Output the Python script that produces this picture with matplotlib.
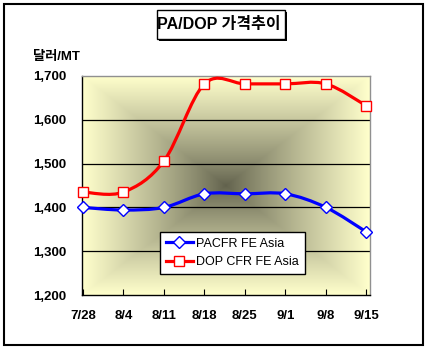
import numpy as np
import matplotlib
matplotlib.use("Agg")
import matplotlib.pyplot as plt
from matplotlib.path import Path
from matplotlib.patches import PathPatch, Rectangle

categories = ["7/28", "8/4", "8/11", "8/18", "8/25", "9/1", "9/8", "9/15"]
pa_values = [1400, 1394, 1400, 1431, 1431, 1431, 1400, 1344]
dop_values = [1435, 1435, 1506, 1682, 1682, 1682, 1682, 1632]
series_names = ["PACFR FE Asia", "DOP CFR FE Asia"]
yticks = [1200, 1300, 1400, 1500, 1600, 1700]
ytick_labels = ["1,200", "1,300", "1,400", "1,500", "1,600", "1,700"]
title = "PA/DOP 가격추이"
unit_label = "달러/MT"

FAM = ["Liberation Sans", "Noto Sans CJK KR"]
W, H = 428, 354


def fx(px):
    return px / W


def fy(py):
    return 1 - py / H


fig = plt.figure(figsize=(4.28, 3.54), dpi=100)
fig.patch.set_facecolor("white")

# outer border
fig.add_artist(Rectangle((fx(4), fy(345)), 419 / W, 341 / H,
                         transform=fig.transFigure, fill=False,
                         edgecolor="black", linewidth=1.5))

ax = fig.add_axes([fx(82), fy(295), 288 / W, 219 / H])

# gradient background
n = 300
u = np.linspace(-1, 1, n)
U, V = np.meshgrid(u, u)
t = np.maximum(np.abs(U), np.abs(V))
center = np.array([0.38, 0.38, 0.30])
edge = np.array([1.0, 1.0, 0.80])
tt = t ** 0.85
img = center[None, None, :] + (edge - center)[None, None, :] * tt[:, :, None]
ax.imshow(img, extent=[0, 1, 0, 1], transform=ax.transAxes, aspect="auto",
          zorder=0, interpolation="bilinear")

x = np.arange(len(categories))
ax.set_xlim(-0.025, 7.09)
ax.set_ylim(1200, 1700)


def smooth_path(xs, ys):
    pts = np.column_stack([xs, ys]).astype(float)
    verts = [pts[0]]
    codes = [Path.MOVETO]
    nn = len(pts)
    for i in range(nn - 1):
        p0 = pts[i - 1] if i > 0 else pts[i]
        p1 = pts[i]
        p2 = pts[i + 1]
        p3 = pts[i + 2] if i + 2 < nn else pts[i + 1]
        c1 = p1 + (p2 - p0) / 6.0
        c2 = p2 - (p3 - p1) / 6.0
        verts += [c1, c2, p2]
        codes += [Path.CURVE4] * 3
    return Path(verts, codes)


for vals, col in [(pa_values, "#0000ff"), (dop_values, "#ff0000")]:
    patch = PathPatch(smooth_path(x, vals), facecolor="none", edgecolor=col,
                      linewidth=2.3, zorder=3, capstyle="round", joinstyle="round")
    patch.set_clip_on(False)
    ax.add_patch(patch)

ax.plot(x, pa_values, linestyle="none", marker="D", markersize=6.5,
        markerfacecolor="white", markeredgecolor="#0000ff", markeredgewidth=1.0,
        zorder=4, clip_on=False)
ax.plot(x, dop_values, linestyle="none", marker="s", markersize=7.5,
        markerfacecolor="white", markeredgecolor="#ff0000", markeredgewidth=1.0,
        zorder=4, clip_on=False)

# legend handles
h1, = ax.plot([], [], color="#0000ff", linewidth=2.3, marker="D", markersize=6.5,
              markerfacecolor="white", markeredgecolor="#0000ff", markeredgewidth=1.0)
h2, = ax.plot([], [], color="#ff0000", linewidth=2.3, marker="s", markersize=7.5,
              markerfacecolor="white", markeredgecolor="#ff0000", markeredgewidth=1.0)
leg = ax.legend([h1, h2], series_names, loc="upper left",
                bbox_to_anchor=(0.271, 0.288), borderaxespad=0,
                frameon=True, fancybox=False, framealpha=1, edgecolor="black",
                handlelength=2.2, handletextpad=0.25, borderpad=0.45,
                labelspacing=0.55, prop={"family": FAM, "size": 9})
leg.get_frame().set_linewidth(1.0)
leg.set_zorder(5)

# grid lines
for yv in yticks[1:-1]:
    ax.axhline(yv, color="black", linewidth=0.9, zorder=1)

ax.set_yticks(yticks)
ax.set_yticklabels(ytick_labels)
ax.set_xticks(x)
ax.set_xticklabels(categories)
ax.tick_params(axis="y", length=0, pad=11)
ax.tick_params(axis="x", direction="in", length=4, pad=11)
for lab in ax.get_yticklabels() + ax.get_xticklabels():
    lab.set_fontfamily(FAM)
    lab.set_fontweight("bold")
    lab.set_fontsize(9.5)

for s in ["left", "bottom"]:
    ax.spines[s].set_color("black")
    ax.spines[s].set_linewidth(1.0)
for s in ["top", "right"]:
    ax.spines[s].set_color("#909090")
    ax.spines[s].set_linewidth(1.0)

# title box with shadow
fig.add_artist(Rectangle((fx(159), fy(41)), 128 / W, 29 / H,
                         transform=fig.transFigure, facecolor="black",
                         edgecolor="none", zorder=1))
fig.add_artist(Rectangle((fx(157), fy(39)), 128 / W, 29 / H,
                         transform=fig.transFigure, facecolor="white",
                         edgecolor="black", linewidth=1.0, zorder=2))
fig.text(fx(219), fy(25), title, ha="center", va="center",
         fontsize=11.5, fontweight="bold", family=FAM, zorder=3)

fig.text(fx(33), fy(57), unit_label, ha="left", va="center",
         fontsize=9.5, fontweight="bold", family=FAM)

fig.savefig("out.png", dpi=100, facecolor="white")
